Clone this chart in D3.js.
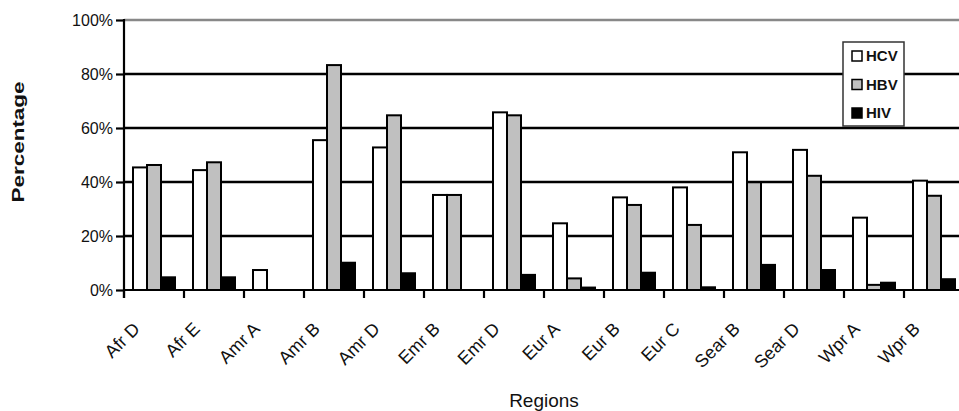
<!DOCTYPE html>
<html>
<head>
<meta charset="utf-8">
<script src="https://cdn.jsdelivr.net/npm/d3@7"></script>
<style>
  body { margin: 0; background: #fff; }
  svg { display: block; font-family: Arial, "Liberation Sans", Helvetica, sans-serif; }
</style>
</head>
<body>
<div class="container"></div>
<script>
// values (percent)
const categories = ["Afr D", "Afr E", "Amr A", "Amr B", "Amr D", "Emr B", "Emr D",
  "Eur A", "Eur B", "Eur C", "Sear B", "Sear D", "Wpr A", "Wpr B"];
const series = ["HCV", "HBV", "HIV"];
const hcv = [45.4, 44.4, 7.4, 55.5, 52.8, 35.2, 65.8, 24.7, 34.3, 38.0, 51.0, 51.9, 26.8, 40.5];
const hbv = [46.3, 47.3, 0, 83.3, 64.7, 35.2, 64.7, 4.3, 31.5, 24.1, 39.9, 42.3, 1.9, 34.9];
const hiv = [4.7, 4.7, 0, 10.1, 6.2, 0, 5.6, 0.9, 6.4, 1.0, 9.3, 7.4, 2.7, 4.0];
const yTicks = [0, 20, 40, 60, 80, 100];
const fills = ["#ffffff", "#c0c0c0", "#000000"];

const width = 959, height = 411;
const svg = d3.select('.container').append('svg')
  .attr('width', width)
  .attr('height', height);

const x0 = d3.scaleBand().domain(categories).range([124, 964]);
const x1 = d3.scaleBand().domain(series).range([9, x0.bandwidth() - 9]);
const y = d3.scaleLinear().domain([0, 100]).range([290, 20]);
const color = d3.scaleOrdinal().domain(series).range(fills);

const rows = categories.map((c, i) => ({ cat: c, vals: [hcv[i], hbv[i], hiv[i]] }));

// gridlines
svg.append('g')
  .selectAll('line')
  .data(yTicks.filter(d => d > 0))
  .join('line')
  .attr('x1', 124).attr('x2', width)
  .attr('y1', d => y(d)).attr('y2', d => y(d))
  .attr('stroke', d => d === 100 ? '#888' : '#000')
  .attr('stroke-width', 2.4);

// bars
svg.append('g')
  .selectAll('g')
  .data(rows)
  .join('g')
  .attr('transform', d => `translate(${x0(d.cat)},0)`)
  .selectAll('rect')
  .data(d => d.vals.map((v, j) => ({ key: series[j], value: v })))
  .join('rect')
  .attr('x', d => x1(d.key))
  .attr('width', x1.bandwidth())
  .attr('y', d => y(d.value))
  .attr('height', d => y(0) - y(d.value))
  .attr('fill', d => color(d.key))
  .attr('stroke', '#000')
  .attr('stroke-width', 2);

// y axis
const yAxis = svg.append('g')
  .attr('transform', 'translate(124,0)')
  .call(d3.axisLeft(y).tickValues(yTicks).tickSize(8).tickFormat(d => d + '%'));
yAxis.select('.domain').remove();
yAxis.selectAll('.tick line').attr('stroke-width', 2.2);
yAxis.selectAll('text').attr('font-size', 16).attr('fill', '#111').attr('x', -11);
svg.append('line')
  .attr('x1', 124).attr('x2', 124)
  .attr('y1', y(100) - 1).attr('y2', 298)
  .attr('stroke', '#000').attr('stroke-width', 2.2);

// x axis line and boundary ticks
svg.append('line')
  .attr('x1', 124).attr('x2', width)
  .attr('y1', y(0)).attr('y2', y(0))
  .attr('stroke', '#000').attr('stroke-width', 2.2);
svg.append('g')
  .selectAll('line')
  .data(categories)
  .join('line')
  .attr('x1', d => x0(d)).attr('x2', d => x0(d))
  .attr('y1', y(0)).attr('y2', 298)
  .attr('stroke', '#000').attr('stroke-width', 2.2);

// category labels
svg.append('g')
  .selectAll('text')
  .data(categories)
  .join('text')
  .attr('transform', d => `translate(${x0(d) + x0.bandwidth() / 2 - 13},${330}) rotate(-45)`)
  .attr('text-anchor', 'end')
  .attr('font-size', 18)
  .attr('fill', '#111')
  .text(d => d);

// axis titles
svg.append('text')
  .attr('x', 544).attr('y', 407)
  .attr('text-anchor', 'middle')
  .attr('font-size', 19)
  .attr('fill', '#111')
  .text('Regions');
svg.append('text')
  .attr('transform', 'translate(24,142) rotate(-90)')
  .attr('text-anchor', 'middle')
  .attr('font-size', 16)
  .attr('font-weight', 'bold')
  .attr('textLength', 121)
  .attr('lengthAdjust', 'spacingAndGlyphs')
  .attr('fill', '#111')
  .text('Percentage');

// legend
const legend = svg.append('g').attr('transform', 'translate(843,42)');
legend.append('rect')
  .attr('width', 61).attr('height', 84)
  .attr('fill', '#fff')
  .attr('stroke', '#333').attr('stroke-width', 1.5);
const item = legend.selectAll('g.item')
  .data(series)
  .join('g')
  .attr('class', 'item')
  .attr('transform', (d, i) => `translate(9,${14 + i * 28.5})`);
item.append('rect')
  .attr('x', 0).attr('y', -5)
  .attr('width', 10).attr('height', 10)
  .attr('fill', d => color(d))
  .attr('stroke', '#000').attr('stroke-width', 1.5);
item.append('text')
  .attr('x', 14).attr('dy', '0.36em')
  .attr('font-size', 15)
  .attr('font-weight', 'bold')
  .attr('fill', '#111')
  .text(d => d);
</script>
</body>
</html>
